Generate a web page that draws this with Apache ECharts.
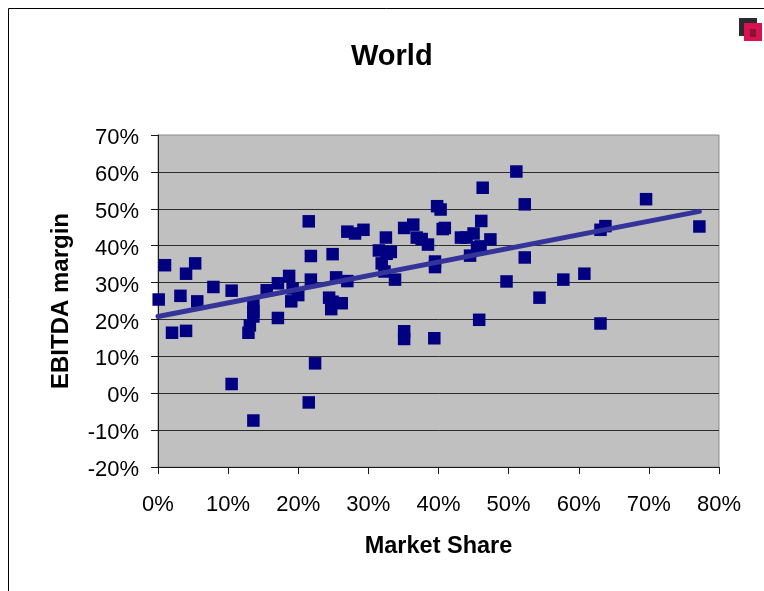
<!DOCTYPE html>
<html>
<head>
<meta charset="utf-8">
<style>html,body{margin:0;padding:0;background:#fff}#chart{width:764px;height:591px}</style>
<script src="https://cdn.jsdelivr.net/npm/echarts@6/dist/echarts.min.js"></script>
</head>
<body>
<div id="chart"></div>
<script>
// Each company's market share and EBITDA margin, in percent
const marketShare = [0.1,1,2,3.2,4,4,5.3,5.6,7.9,10.5,10.5,12.9,13.1,13.6,13.6,13.6,13.6,15.5,17.1,17.1,18.7,19,19.2,20,21.5,21.5,21.8,21.8,22.4,24.4,24.7,24.9,24.9,25.4,26.2,27,27,28.1,29.3,31.5,31.9,32.3,32.5,32.6,33.2,33.8,35.1,35.1,35.1,36.4,36.9,37.6,38.5,39.4,39.5,39.5,39.8,40.3,40.6,40.9,43.2,44,44.5,45,45.5,45.8,46,46.1,46.3,47.4,49.7,51.1,52.3,52.3,54.4,57.8,60.8,63.1,63.1,63.8,69.6,77.2];
const ebitdaMargin = [25.4,34.7,16.4,26.4,32.4,16.9,35.2,24.9,28.8,27.8,2.5,16.4,18.4,24.2,22.2,20.8,-7.4,27.9,29.8,20.4,31.8,24.9,28.4,26.6,46.6,-2.5,37.2,30.8,8.1,25.9,22.8,37.7,24.8,31.4,24.4,30.4,43.8,43.3,44.3,38.7,35.2,33,42.2,37.8,38.3,30.8,44.8,16.8,14.7,45.7,42.2,41.8,40.3,14.9,35.7,34.2,50.7,49.8,44.5,44.8,42.2,42.2,37.3,43.3,39.6,19.9,39.8,46.7,55.7,41.7,30.3,60.1,51.2,36.8,25.9,30.8,32.4,18.9,44.3,45.3,52.6,45.2];
// Linear trend across the observed market share range
const trendShare = [0, 77.2];
const trendMargin = [20.8, 49.3];
const xTicks = { min: 0, max: 80, step: 10 };
const yTicks = { min: -20, max: 70, step: 10 };

const tickFont = { color: '#000', fontFamily: '"Liberation Sans", Arial, sans-serif', fontSize: 22 };
const nameFont = { color: '#000', fontFamily: '"Liberation Sans", Arial, sans-serif', fontWeight: 'bold' };
const axisStroke = { color: '#1a1a1a', width: 1 };
const percent = v => v + '%';

const chart = echarts.init(document.getElementById('chart'), null, { renderer: 'canvas' });
chart.setOption({
  animation: false,
  backgroundColor: '#fff',
  title: {
    text: 'World', left: 346, top: 37,
    textStyle: { ...nameFont, fontSize: 29 }
  },
  grid: {
    left: 158, right: 45, top: 135, bottom: 124, containLabel: false,
    show: true, backgroundColor: '#c0c0c0', borderColor: '#8c8c8c', borderWidth: 1
  },
  xAxis: {
    type: 'value', min: xTicks.min, max: xTicks.max, interval: xTicks.step,
    name: 'Market Share', nameLocation: 'middle', nameGap: 68,
    nameTextStyle: { ...nameFont, fontSize: 23.5 },
    axisLine: { onZero: false, lineStyle: axisStroke },
    axisTick: { length: 7, lineStyle: axisStroke },
    axisLabel: { ...tickFont, margin: 27, formatter: percent, showMinLabel: true, showMaxLabel: true },
    splitLine: { show: false }
  },
  yAxis: {
    type: 'value', min: yTicks.min, max: yTicks.max, interval: yTicks.step,
    name: 'EBITDA margin', nameLocation: 'middle', nameGap: 85, nameRotate: 90,
    nameTextStyle: { ...nameFont, fontSize: 24 },
    axisLine: { onZero: false, lineStyle: axisStroke },
    axisTick: { length: 7, lineStyle: axisStroke },
    axisLabel: { ...tickFont, margin: 19, verticalAlign: 'top', lineHeight: 6, formatter: percent },
    splitLine: { show: true, showMinLine: false, showMaxLine: false, lineStyle: { color: '#2b2b2b', width: 1 } }
  },
  series: [
    {
      type: 'scatter',
      data: marketShare.map((x, i) => [x, ebitdaMargin[i]]),
      symbol: 'rect', symbolSize: 12.5,
      itemStyle: { color: '#000080', opacity: 1 },
      z: 2
    },
    {
      type: 'line',
      data: trendShare.map((x, i) => [x, trendMargin[i]]),
      symbol: 'none', clip: true,
      lineStyle: { color: '#333399', width: 5, cap: 'round' },
      z: 3
    }
  ],
  graphic: [
    // Page frame along the top and left edges
    { type: 'line', shape: { x1: 8.5, y1: 8.5, x2: 764, y2: 8.5 }, style: { stroke: '#000', lineWidth: 1 } },
    { type: 'line', shape: { x1: 8.5, y1: 8.5, x2: 8.5, y2: 591 }, style: { stroke: '#000', lineWidth: 1 } },
    // Small embedded-object icon in the corner
    { type: 'rect', shape: { x: 739, y: 18, width: 18, height: 18 }, style: { fill: '#2a2a30' } },
    { type: 'rect', shape: { x: 744, y: 23, width: 18, height: 18 }, style: { fill: '#d8124e' } },
    { type: 'rect', shape: { x: 750, y: 29, width: 6, height: 8 }, style: { fill: '#8a1038' } }
  ]
});
</script>
</body>
</html>
